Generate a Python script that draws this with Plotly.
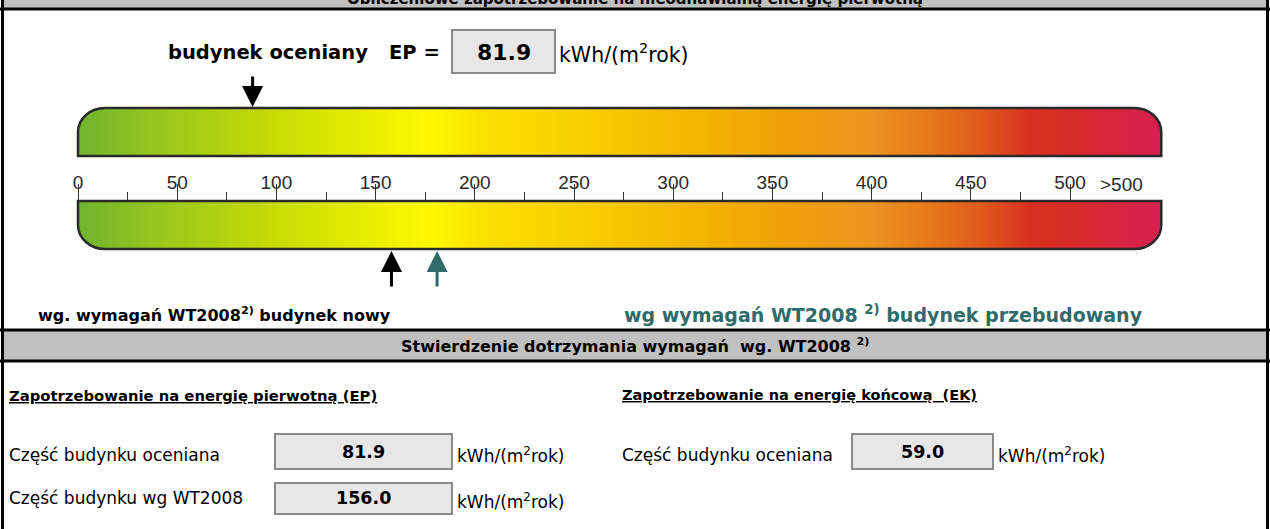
import numpy as np
import plotly.graph_objects as go

# ---------------- data ----------------
scale_major = [0, 50, 100, 150, 200, 250, 300, 350, 400, 450, 500]
scale_minor = [25, 75, 125, 175, 225, 275, 325, 375, 425, 475]
scale_end = 546            # right end of the colour bar on the scale
over_label = ">500"
over_label_pos = 526

ep_building = "81.9"       # EP of the assessed building
ep_wt2008 = "156.0"        # EP according to WT2008
ek_building = "59.0"       # EK of the assessed building
unit = "kWh/(m<sup>2</sup>rok)"

arrow_assessed = 88        # arrow positions
arrow_new = 158
arrow_rebuilt = 181

# colour ramp of the scale (scale value -> colour)
ramp_vals = [0, 40, 90, 140, 178, 200, 260, 310, 350, 400, 430, 455, 480, 505, 546]
ramp_cols = ["#6fb42f", "#97c71d", "#c0d707", "#e5eb00", "#fff800", "#fbe200",
             "#f7cc00", "#f3b600", "#f0a306", "#eb9420", "#e6781a", "#e05a1c",
             "#d9301f", "#d82a2c", "#d71f52"]

# ---------------- layout helpers ----------------
W, H = 1270, 529
PX0, PX500 = 78, 1070
PX = (PX500 - PX0) / 500.0
FB = "DejaVu Sans"
TEAL = "#2f6b6b"
BOXFILL = "#e7e7e7"
BOXLINE = "#8a8a8a"
OUTL = "#2a2a2a"

fig = go.Figure()

# gradient bars (upper and lower) through the scale axis x2
edges = np.arange(0, scale_end + 1, 1.0)
mids = (edges[:-1] + edges[1:]) / 2
row = list(mids)
z = [row, [None] * len(row), row]
cs = [[v / scale_end, c] for v, c in zip(ramp_vals, ramp_cols)]
fig.add_trace(go.Heatmap(x=edges, y=[108, 156, 201, 249], z=z, zmin=0, zmax=scale_end,
                         colorscale=cs, showscale=False, hoverinfo="skip",
                         xaxis="x2", yaxis="y"))

shapes = []
k = 0.5523
rx = 27 / PX
ry = 24


def bar_paths(L, R, T, B, top_round):
    if top_round:
        outline = (f"M {L},{B} L {L},{T+ry} C {L},{T+ry-k*ry} {L+rx-k*rx},{T} {L+rx},{T} "
                   f"L {R-rx},{T} C {R-rx+k*rx},{T} {R},{T+ry-k*ry} {R},{T+ry} L {R},{B} Z")
        m1 = (f"M {L},{T+ry} C {L},{T+ry-k*ry} {L+rx-k*rx},{T} {L+rx},{T} "
              f"L {L+rx},{T-3} L {L-3},{T-3} L {L-3},{T+ry} Z")
        m2 = (f"M {R},{T+ry} C {R},{T+ry-k*ry} {R-rx+k*rx},{T} {R-rx},{T} "
              f"L {R-rx},{T-3} L {R+3},{T-3} L {R+3},{T+ry} Z")
    else:
        outline = (f"M {L},{T} L {R},{T} L {R},{B-ry} C {R},{B-ry+k*ry} {R-rx+k*rx},{B} {R-rx},{B} "
                   f"L {L+rx},{B} C {L+rx-k*rx},{B} {L},{B-ry+k*ry} {L},{B-ry} Z")
        m1 = (f"M {L},{B-ry} C {L},{B-ry+k*ry} {L+rx-k*rx},{B} {L+rx},{B} "
              f"L {L+rx},{B+3} L {L-3},{B+3} L {L-3},{B-ry} Z")
        m2 = (f"M {R},{B-ry} C {R},{B-ry+k*ry} {R-rx+k*rx},{B} {R-rx},{B} "
              f"L {R-rx},{B+3} L {R+3},{B+3} L {R+3},{B-ry} Z")
    res = []
    for m in (m1, m2):
        res.append(dict(type="path", path=m, xref="x2", yref="y", fillcolor="white",
                        line=dict(width=0), layer="above"))
    res.append(dict(type="path", path=outline, xref="x2", yref="y",
                    line=dict(color=OUTL, width=2.5), layer="above"))
    return res


shapes += bar_paths(0, scale_end, 108, 156, True)
shapes += bar_paths(0, scale_end, 201, 249, False)

# frame / bands
shapes += [
    dict(type="rect", x0=3, x1=1267, y0=-1, y1=8, xref="x", yref="y",
         fillcolor="#c0c0c0", line=dict(width=0), layer="below"),
    dict(type="line", x0=0, x1=W, y0=9, y1=9, xref="x", yref="y", line=dict(color="black", width=3)),
    dict(type="rect", x0=3, x1=1267, y0=330, y1=361, xref="x", yref="y",
         fillcolor="#c0c0c0", line=dict(width=0), layer="below"),
    dict(type="line", x0=0, x1=W, y0=330, y1=330, xref="x", yref="y", line=dict(color="black", width=3)),
    dict(type="line", x0=0, x1=W, y0=361, y1=361, xref="x", yref="y", line=dict(color="black", width=3)),
    dict(type="line", x0=2.5, x1=2.5, y0=0, y1=H, xref="x", yref="y", line=dict(color="black", width=3)),
    dict(type="line", x0=1267.5, x1=1267.5, y0=0, y1=H, xref="x", yref="y", line=dict(color="black", width=3)),
]


def box(x0, x1, y0, y1):
    return dict(type="rect", x0=x0, x1=x1, y0=y0, y1=y1, xref="x", yref="y",
                fillcolor=BOXFILL, line=dict(color=BOXLINE, width=2), layer="below")


shapes += [box(452, 555, 30, 73), box(275, 452, 434, 469), box(275, 452, 483, 514),
           box(852, 993, 434, 469)]

ann = []


def txt(x, y, s, size, color="black", xanchor="left", family=FB):
    ann.append(dict(x=x, y=y, xref="x", yref="y", text=s, showarrow=False,
                    xanchor=xanchor, yanchor="middle",
                    font=dict(family=family, size=size, color=color)))


# title of the top band (cut off at the top edge, as in the reference)
ann.append(dict(x=635, y=(H + 1.5) / H, xref="x", yref="paper",
                text="<b>Obliczeniowe zapotrzebowanie na nieodnawialną energię pierwotną</b>",
                showarrow=False, xanchor="center", yanchor="middle",
                font=dict(family=FB, size=15, color="black")))
txt(166, 52, "<b>budynek oceniany</b>", 19.5)
txt(387, 52, "<b>EP =</b>", 19.5)
txt(503.5, 52, f"<b>{ep_building}</b>", 22, xanchor="center")
txt(557, 53, unit, 20.5)

txt(36, 314, "<b>wg. wymagań WT2008<sup>2)</sup> budynek nowy</b>", 16)
txt(622, 314, "<b>wg wymagań WT2008 <sup>2)</sup> budynek przebudowany</b>", 19, color=TEAL)
txt(635, 345, "<b>Stwierdzenie dotrzymania wymagań  wg. WT2008 <sup>2)</sup></b>", 16,
    xanchor="center")

txt(7, 395, "<b><u>Zapotrzebowanie na energię pierwotną (EP)</u></b>", 14.8)
txt(620, 395, "<b><u>Zapotrzebowanie na energię końcową  (EK)</u></b>", 14.5)

txt(7, 455, "Część budynku oceniana", 17)
txt(363.5, 452, f"<b>{ep_building}</b>", 17.5, xanchor="center")
txt(455, 455, unit, 17)
txt(7, 498, "Część budynku wg WT2008", 17)
txt(363.5, 498, f"<b>{ep_wt2008}</b>", 17.5, xanchor="center")
txt(455, 501, unit, 17)
txt(620, 455, "Część budynku oceniana", 17)
txt(922.5, 452, f"<b>{ek_building}</b>", 17.5, xanchor="center")
txt(996, 455, unit, 17)

# ">500" label on the scale
ann.append(dict(x=over_label_pos, y=184, xref="x2", yref="y", text=over_label, showarrow=False,
                xanchor="center", yanchor="middle",
                font=dict(family="Liberation Sans", size=19, color="#2a2a2a")))


# arrows on the scale
def arrow(v, tip_y, ay, color):
    ann.append(dict(x=v, y=tip_y, xref="x2", yref="y", ax=0, ay=ay, text="",
                    showarrow=True, arrowhead=2, arrowsize=1.4, arrowwidth=3,
                    arrowcolor=color, standoff=0))


arrow(arrow_assessed, 107, -32, "black")
arrow(arrow_new, 251, 37, "black")
arrow(arrow_rebuilt, 251, 37, TEAL)

fig.update_layout(
    width=W, height=H, autosize=False,
    margin=dict(l=0, r=0, t=0, b=0),
    paper_bgcolor="white", plot_bgcolor="white",
    showlegend=False,
    xaxis=dict(range=[0, W], visible=False, fixedrange=True),
    yaxis=dict(range=[H, 0], visible=False, fixedrange=True),
    xaxis2=dict(range=[(0 - PX0) / PX, (W - PX0) / PX], overlaying="x", anchor="free",
                position=(H - 201) / H, side="top", showgrid=False, zeroline=False,
                showline=False, tickmode="array", tickvals=scale_major,
                ticktext=[str(v) for v in scale_major], ticks="outside", ticklen=17,
                tickwidth=1.3, tickcolor="#333",
                minor=dict(tickvals=scale_minor, ticks="outside", ticklen=9,
                           tickwidth=1.3, tickcolor="#333", showgrid=False),
                ticklabelstandoff=-13,
                tickfont=dict(family="Liberation Sans", size=19, color="#2a2a2a"),
                fixedrange=True),
    shapes=shapes,
    annotations=ann,
)

fig.write_html("out.html", config={"displayModeBar": False},
               post_script="document.body.style.margin='0';document.body.style.overflow='hidden';")
